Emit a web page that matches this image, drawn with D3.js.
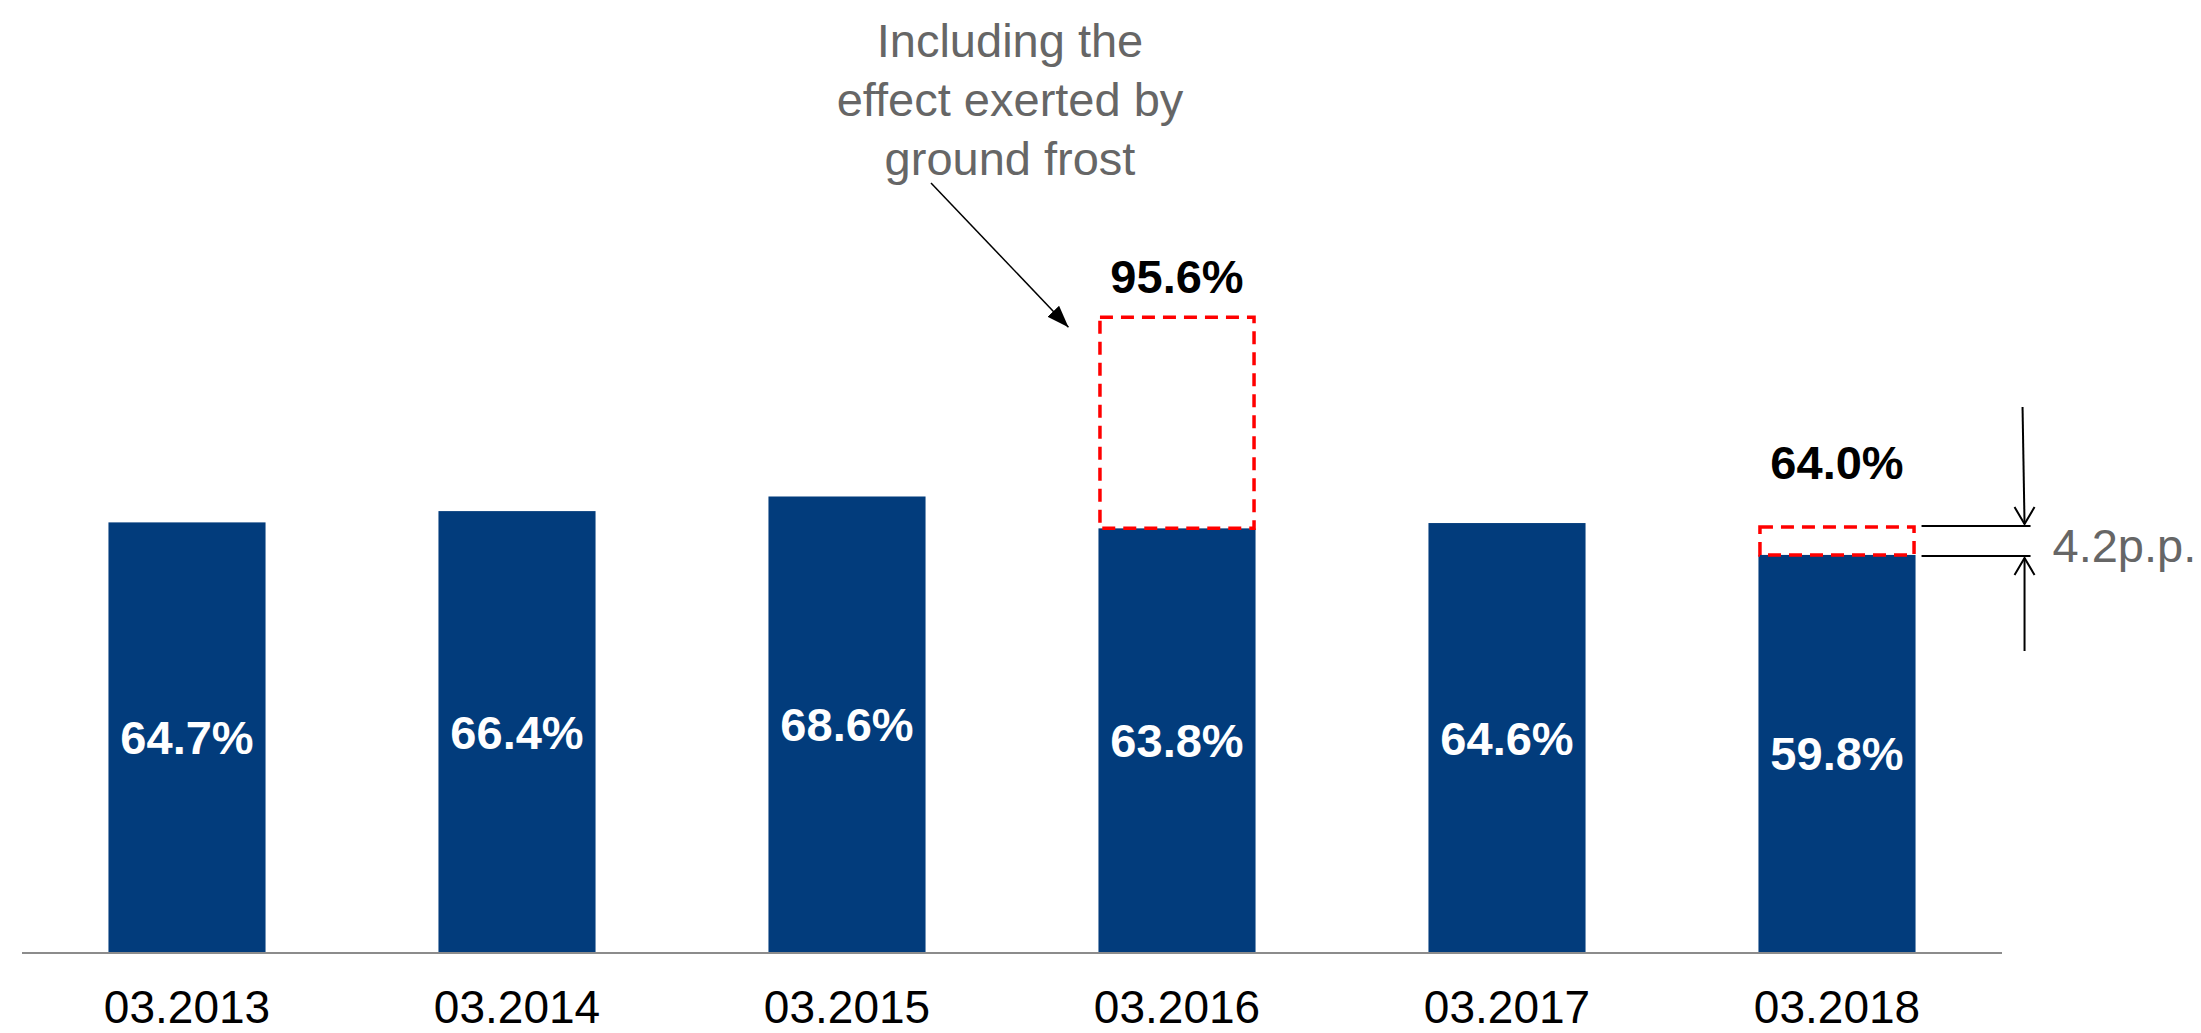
<!DOCTYPE html>
<html>
<head>
<meta charset="utf-8">
<script src="https://cdn.jsdelivr.net/npm/d3@7"></script>
<style>
  html, body { margin: 0; padding: 0; background: #fff; }
  svg { display: block; font-family: "Liberation Sans", Arial, sans-serif; }
</style>
</head>
<body>
<script>
// chart values
const categories = ["03.2013", "03.2014", "03.2015", "03.2016", "03.2017", "03.2018"];
const values = [64.7, 66.4, 68.6, 63.8, 64.6, 59.8];
// value incl. ground frost effect (only where it exists)
const frostValues = [null, null, null, 95.6, null, 64.0];
const noteLines = ["Including the", "effect exerted by", "ground frost"];
const diffText = "4.2p.p.";

const W = 2201, H = 1033;
const BAR = "#023c7c";

const svg = d3.select("body").append("svg")
    .attr("width", W)
    .attr("height", H);

const defs = svg.append("defs");
defs.append("marker")
    .attr("id", "tri")
    .attr("viewBox", "0 0 22 16")
    .attr("refX", 22).attr("refY", 8)
    .attr("markerWidth", 22).attr("markerHeight", 16)
    .attr("markerUnits", "userSpaceOnUse")
    .attr("orient", "auto")
  .append("path")
    .attr("d", "M0,0 L22,8 L0,16 Z")
    .attr("fill", "#000");

const x = d3.scaleBand()
    .domain(categories)
    .range([22, 2002])
    .paddingInner(0.524)
    .paddingOuter(0.262);

const y = d3.scaleLinear()
    .domain([0, 100])
    .range([952, 288]);

// bars
svg.selectAll("rect.bar")
    .data(values)
    .join("rect")
    .attr("class", "bar")
    .attr("x", (d, i) => x(categories[i]))
    .attr("y", d => y(d))
    .attr("width", x.bandwidth())
    .attr("height", d => y(0) - y(d))
    .attr("fill", BAR);

// value labels in bars
svg.selectAll("text.val")
    .data(values)
    .join("text")
    .attr("class", "val")
    .attr("x", (d, i) => x(categories[i]) + x.bandwidth() / 2)
    .attr("y", d => (y(d) + y(0)) / 2 + 17)
    .attr("text-anchor", "middle")
    .attr("font-size", 47)
    .attr("font-weight", "bold")
    .attr("fill", "#fff")
    .text(d => d.toFixed(1) + "%");

// dashed frost boxes
const frost = frostValues
    .map((f, i) => ({ f, v: values[i], c: categories[i] }))
    .filter(d => d.f != null);

svg.selectAll("rect.frost")
    .data(frost)
    .join("rect")
    .attr("class", "frost")
    .attr("x", d => x(d.c) + 1.5)
    .attr("y", d => y(d.f))
    .attr("width", x.bandwidth() - 3)
    .attr("height", d => y(d.v) - y(d.f))
    .attr("fill", "none")
    .attr("stroke", "#ff0000")
    .attr("stroke-width", 3.5)
    .attr("stroke-dasharray", "13,8");

// labels above frost boxes (the small one sits higher to clear the bracket)
svg.selectAll("text.top")
    .data(frost)
    .join("text")
    .attr("class", "top")
    .attr("x", d => x(d.c) + x.bandwidth() / 2)
    .attr("y", d => y(d.f) - (d.f - d.v > 10 ? 24 : 48))
    .attr("text-anchor", "middle")
    .attr("font-size", 47)
    .attr("font-weight", "bold")
    .attr("fill", "#000")
    .text(d => d.f.toFixed(1) + "%");

// baseline
svg.append("line")
    .attr("x1", 22).attr("x2", 2002)
    .attr("y1", y(0) + 1).attr("y2", y(0) + 1)
    .attr("stroke", "#8c8c8c")
    .attr("stroke-width", 2);

// category axis labels
const xAxis = svg.append("g")
    .attr("transform", `translate(0,${y(0)})`)
    .call(d3.axisBottom(x).tickSize(0).tickPadding(71));
xAxis.select(".domain").remove();
xAxis.selectAll("text")
    .attr("font-size", 46)
    .attr("font-family", "Liberation Sans, Arial, sans-serif")
    .attr("fill", "#000")
    .attr("dy", 0);

// note + arrow for the 2016 box
const big = frost[0];
const note = svg.append("text")
    .attr("text-anchor", "middle")
    .attr("font-size", 47)
    .attr("fill", "#666");
note.selectAll("tspan")
    .data(noteLines)
    .join("tspan")
    .attr("x", 1010)
    .attr("y", (d, i) => 57 + i * 59)
    .text(d => d);

svg.append("line")
    .attr("x1", 931).attr("y1", 183)
    .attr("x2", x(big.c) - 30).attr("y2", y(big.f) + 10)
    .attr("stroke", "#000")
    .attr("stroke-width", 1.5)
    .attr("marker-end", "url(#tri)");

// 4.2 p.p. bracket on the 2018 bar
const small = frost[1];
const bx0 = x(small.c) + x.bandwidth() + 6;
const bx1 = bx0 + 109;
const ax = bx1 - 6;
const yTop = y(small.f) - 1, yBot = y(small.v) + 1;

svg.selectAll("line.ref")
    .data([yTop, yBot])
    .join("line")
    .attr("class", "ref")
    .attr("x1", bx0).attr("x2", bx1)
    .attr("y1", d => d).attr("y2", d => d)
    .attr("stroke", "#000")
    .attr("stroke-width", 2);

function openArrow(x1, y1, x2, y2) {
    svg.append("line")
        .attr("x1", x1).attr("y1", y1)
        .attr("x2", x2).attr("y2", y2)
        .attr("stroke", "#000")
        .attr("stroke-width", 2);
    const dir = Math.sign(y2 - y1);
    svg.append("path")
        .attr("d", `M${x2 - 10},${y2 - dir * 17} L${x2},${y2} L${x2 + 10},${y2 - dir * 17}`)
        .attr("fill", "none")
        .attr("stroke", "#000")
        .attr("stroke-width", 2);
}
openArrow(ax - 2, 407, ax, yTop - 2);
openArrow(ax, 651, ax, yBot + 2);

svg.append("text")
    .attr("x", bx1 + 22)
    .attr("y", (yTop + yBot) / 2 + 21)
    .attr("font-size", 47)
    .attr("fill", "#666")
    .text(diffText);
</script>
</body>
</html>
